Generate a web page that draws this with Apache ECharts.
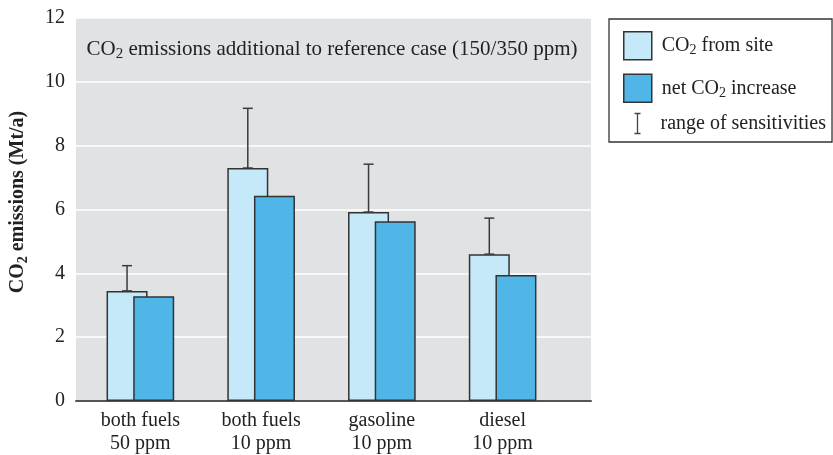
<!DOCTYPE html>
<html><head><meta charset="utf-8">
<script src="https://cdn.jsdelivr.net/npm/echarts@6/dist/echarts.min.js"></script>
<style>html,body{margin:0;padding:0;background:#fff}#c{width:833px;height:455px}</style>
</head><body><div id="c"></div>
<script>
const categories = ['both fuels\n50 ppm', 'both fuels\n10 ppm', 'gasoline\n10 ppm', 'diesel\n10 ppm'];
const co2FromSite = [3.45, 7.3, 5.92, 4.6];
const netIncrease = [3.28, 6.43, 5.63, 3.95];
const sensitivityHigh = [4.24, 9.17, 7.42, 5.73];
const yTicks = [0, 2, 4, 6, 8, 10, 12];

const FONT = '"Liberation Serif", "DejaVu Serif", serif';
const BW = 41, GAP = -0.35;
const chart = echarts.init(document.getElementById('c'));
const txt = {fontFamily: FONT, fontSize: 20, fontWeight: 'normal', color: '#222'};
const sub = {fontFamily: FONT, fontSize: 14, fontWeight: 'normal', color: '#222', padding: [10, 0, 0, 0]};
const fmt = function (n) {
  if (n === 'site') return '{a|CO}{s|2}{a| from site}';
  if (n === 'net') return '{a|net CO}{s|2}{a| increase}';
  return '{a|range of sensitivities}';
};
chart.setOption({
  animation: false,
  grid: [
    {left: 80, width: 483, top: 18, bottom: 54},
    {left: 72, right: 242, top: 18, bottom: 54, show: true, backgroundColor: '#e1e2e4', borderWidth: 0}
  ],
  title: {
    text: '{a|CO}{s|2}{a| emissions additional to reference case (150/350 ppm)}',
    left: 327, top: 32, textAlign: 'center',
    textStyle: {fontWeight: 'normal', rich: {
      a: Object.assign({}, txt, {fontSize: 21}),
      s: Object.assign({}, sub, {fontSize: 15})}}
  },
  legend: [
    {
      left: 609, top: 19, orient: 'vertical',
      padding: [92, 6, 6, 23], itemWidth: 28, itemHeight: 20,
      borderColor: '#333', borderWidth: 1.3,
      textStyle: {fontFamily: FONT, fontSize: 20, color: '#222', padding: [0, 0, 0, 4], rich: {a: txt, s: sub}},
      formatter: fmt,
      data: [
        {name: 'range', icon: 'path://M3,0 L9,0 M6,0 L6,20 M3,20 L9,20', itemStyle: {color: 'none', borderColor: '#444', borderWidth: 1.3}}
      ]
    },
    {
      left: 609, top: 19, orient: 'vertical',
      padding: [12, 6, 6, 14], itemWidth: 28, itemHeight: 28, itemGap: 13,
      textStyle: {fontFamily: FONT, fontSize: 20, color: '#222', padding: [0, 0, 0, 5], rich: {a: txt, s: sub}},
      formatter: fmt,
      data: [
        {name: 'site', icon: 'rect', itemStyle: {color: '#c6e9f9', borderColor: '#333', borderWidth: 1.5}},
        {name: 'net', icon: 'rect', itemStyle: {color: '#50b6e7', borderColor: '#333', borderWidth: 1.5}}
      ]
    }
  ],
  xAxis: [
    {type: 'category', gridIndex: 0, data: categories, axisLine: {show: false}, axisTick: {show: false},
      axisLabel: {fontFamily: FONT, fontSize: 20, color: '#222', lineHeight: 23, margin: 8}},
    {type: 'category', gridIndex: 1, data: categories, axisLine: {lineStyle: {color: '#555', width: 2}},
      axisTick: {show: false}, axisLabel: {show: false}}
  ],
  yAxis: [
    {type: 'value', gridIndex: 0, min: 0, max: 12, interval: 2, show: false, splitLine: {show: false}},
    {type: 'value', gridIndex: 1, min: 0, max: 12, interval: 2,
      axisLine: {show: false}, axisTick: {show: false},
      splitLine: {lineStyle: {color: '#ffffff', width: 1.5}},
      axisLabel: {fontFamily: FONT, fontSize: 20, color: '#222', margin: 11,
        formatter: v => yTicks.includes(v) ? String(v) : ''},
      name: '{b|CO}{bs|2}{b| emissions (Mt/a)}', nameLocation: 'middle', nameGap: 46,
      nameTextStyle: {padding: [0, 0, 0, 15], rich: {b: {fontFamily: FONT, fontSize: 20, fontWeight: 'bold', color: '#222'},
        bs: {fontFamily: FONT, fontSize: 14, fontWeight: 'bold', color: '#222', padding: [10, 0, 0, 0]}}}}
  ],
  series: [
    {name: 'site', type: 'bar', xAxisIndex: 0, yAxisIndex: 0, data: co2FromSite, barWidth: BW, barGap: (GAP * 100) + '%',
      itemStyle: {color: '#c6e9f9', borderColor: '#333', borderWidth: 1.5}, z: 2},
    {name: 'net', type: 'bar', xAxisIndex: 0, yAxisIndex: 0, data: netIncrease, barWidth: BW,
      itemStyle: {color: '#50b6e7', borderColor: '#333', borderWidth: 1.5}, z: 3},
    {name: 'range', type: 'custom', xAxisIndex: 0, yAxisIndex: 0, z: 4,
      data: co2FromSite.map((v, i) => [i, v, sensitivityHigh[i]]),
      renderItem: function (params, api) {
        const lo = api.coord([api.value(0), api.value(1)]);
        const hi = api.coord([api.value(0), api.value(2)]);
        const x = lo[0] - BW * (1 + GAP) / 2;
        const st = {stroke: '#3a3a3a', lineWidth: 1.5};
        return {type: 'group', children: [
          {type: 'line', shape: {x1: x, y1: lo[1], x2: x, y2: hi[1]}, style: st},
          {type: 'line', shape: {x1: x - 5, y1: hi[1], x2: x + 5, y2: hi[1]}, style: st},
          {type: 'line', shape: {x1: x - 5, y1: lo[1], x2: x + 5, y2: lo[1]}, style: st}
        ]};
      }}
  ]
});
</script></body></html>
